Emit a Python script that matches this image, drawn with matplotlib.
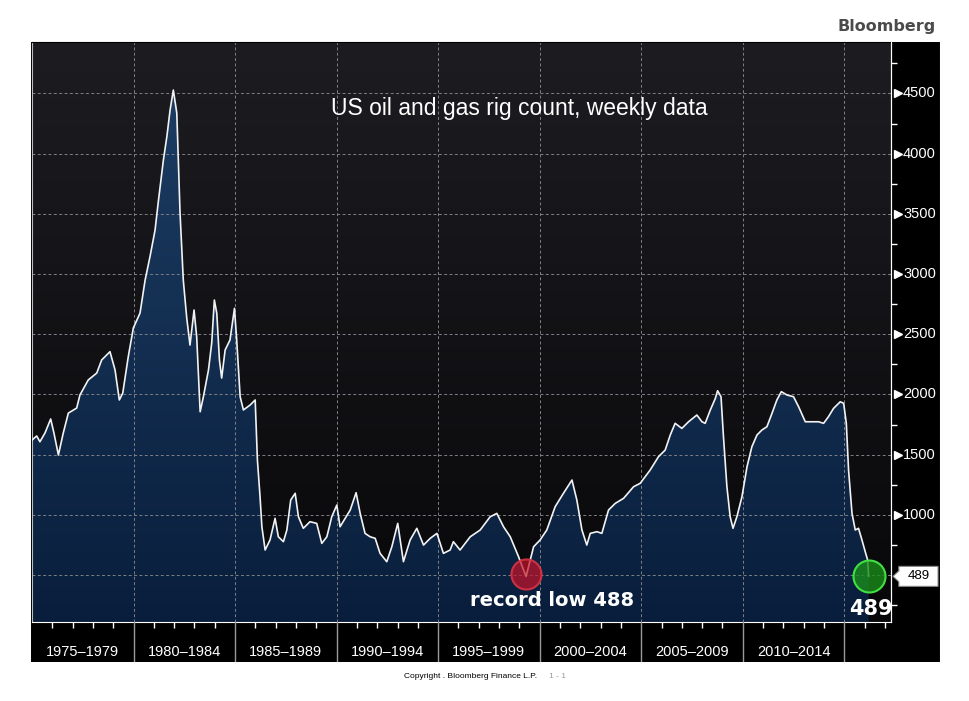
import numpy as np
import matplotlib
matplotlib.use("Agg")
import matplotlib.pyplot as plt
from matplotlib.colors import LinearSegmentedColormap

# weekly US oil and gas rig count
years = [
    1975.00, 1975.23, 1975.39, 1975.64, 1975.92, 1976.08, 1976.30, 1976.54, 1976.79, 1977.20,
    1977.36, 1977.77, 1978.19, 1978.43, 1978.84, 1979.09, 1979.30, 1979.47, 1979.74, 1979.99,
    1980.32, 1980.57, 1980.81, 1981.06, 1981.22, 1981.47, 1981.64, 1981.80, 1981.96, 1982.13,
    1982.29, 1982.45, 1982.62, 1982.78, 1982.98, 1983.11, 1983.28, 1983.44, 1983.69, 1983.85,
    1983.98, 1984.10, 1984.23, 1984.34, 1984.51, 1984.75, 1984.97, 1985.08, 1985.25, 1985.41,
    1985.74, 1985.99, 1986.10, 1986.23, 1986.32, 1986.48, 1986.72, 1986.97, 1987.13, 1987.38,
    1987.55, 1987.74, 1987.96, 1988.12, 1988.36, 1988.69, 1989.02, 1989.27, 1989.52, 1989.76,
    1990.01, 1990.17, 1990.42, 1990.67, 1990.96, 1991.16, 1991.40, 1991.65, 1991.90, 1992.14,
    1992.47, 1992.72, 1993.01, 1993.13, 1993.29, 1993.62, 1993.95, 1994.28, 1994.61, 1994.94,
    1995.26, 1995.59, 1995.75, 1996.08, 1996.58, 1997.07, 1997.56, 1997.89, 1998.22, 1998.55,
    1998.96, 1999.33, 1999.70, 2000.02, 2000.35, 2000.76, 2001.17, 2001.59, 2001.83, 2002.08,
    2002.32, 2002.49, 2002.82, 2003.06, 2003.39, 2003.72, 2004.13, 2004.62, 2004.95, 2005.44,
    2005.85, 2006.18, 2006.43, 2006.67, 2007.00, 2007.33, 2007.74, 2007.99, 2008.15, 2008.40,
    2008.65, 2008.76, 2008.93, 2009.05, 2009.22, 2009.38, 2009.52, 2009.71, 2009.96, 2010.21,
    2010.45, 2010.70, 2010.94, 2011.19, 2011.44, 2011.68, 2011.90, 2012.18, 2012.50, 2012.75,
    2013.08, 2013.41, 2013.73, 2013.98, 2014.22, 2014.47, 2014.80, 2014.97, 2015.10, 2015.21,
    2015.38, 2015.54, 2015.70, 2015.87, 2016.03, 2016.15, 2016.20,
]
rigs = [
    1621, 1655, 1607, 1680, 1796, 1680, 1497, 1680, 1845, 1887,
    1995, 2120, 2178, 2286, 2355, 2203, 1954, 2012, 2313, 2552,
    2676, 2950, 3144, 3365, 3601, 3947, 4140, 4362, 4528, 4337,
    3507, 2950, 2635, 2410, 2701, 2479, 1856, 1981, 2203, 2427,
    2784, 2674, 2286, 2136, 2369, 2452, 2715, 2452, 1981, 1871,
    1912, 1954, 1455, 1150, 901, 708, 791, 971, 818, 777,
    874, 1123, 1179, 984, 888, 943, 929, 763, 818, 984,
    1081, 901, 971, 1040, 1184, 1012, 846, 818, 805, 680,
    611, 735, 929, 791, 611, 791, 888, 749, 805, 846,
    680, 708, 777, 708, 818, 874, 984, 1012, 901, 818,
    652, 488, 735, 791, 874, 1067, 1179, 1289, 1123, 874,
    749, 846, 860, 846, 1040, 1095, 1137, 1233, 1262, 1372,
    1483, 1538, 1663, 1760, 1718, 1773, 1829, 1773, 1760, 1870,
    1967, 2031, 1981, 1649, 1233, 984, 888, 984, 1150, 1400,
    1566, 1663, 1704, 1732, 1843, 1954, 2023, 1995, 1981, 1898,
    1773, 1773, 1773, 1760, 1815, 1884, 1939, 1926, 1760, 1372,
    1012, 874, 888, 791, 694, 625, 489,
]

period_labels = ["1975\u20131979", "1980\u20131984", "1985\u20131989", "1990\u20131994",
                 "1995\u20131999", "2000\u20132004", "2005\u20132009", "2010\u20132014"]
period_starts = [1975, 1980, 1985, 1990, 1995, 2000, 2005, 2010]
y_labels = [1000, 1500, 2000, 2500, 3000, 3500, 4000, 4500]
y_grid = [500, 1000, 1500, 2000, 2500, 3000, 3500, 4000, 4500]
low_year, low_value = 1999.33, 488
last_year, last_value = 2016.20, 489

W, H = 969, 701
XMIN, XMAX = 1975.0, 2017.3
YMIN, YMAX = 110, 4927


def px(x0, y0, x1, y1):
    return [x0 / W, 1 - y1 / H, (x1 - x0) / W, (y1 - y0) / H]


fig = plt.figure(figsize=(W / 100, H / 100), dpi=100)
fig.patch.set_facecolor("white")

# black frame behind everything
ax_bg = fig.add_axes(px(31, 42, 941, 662))
ax_bg.set_facecolor("black")
ax_bg.set_xticks([])
ax_bg.set_yticks([])
for side in ["top", "bottom", "left"]:
    ax_bg.spines[side].set_visible(False)
ax_bg.spines["right"].set_color("white")
ax_bg.spines["right"].set_linewidth(1.5)

# main plot
ax = fig.add_axes(px(32, 42, 891, 622))
ax.set_facecolor("none")
bg_cmap = LinearSegmentedColormap.from_list("bg", ["#08080a", "#1d1c21"])
ax.imshow(np.linspace(0, 1, 256).reshape(-1, 1), cmap=bg_cmap, origin="lower",
          extent=[0, 1, 0, 1], transform=ax.transAxes, aspect="auto", zorder=0)

poly = ax.fill_between(years, rigs, YMIN, facecolor="none", edgecolor="none")
fill_cmap = LinearSegmentedColormap.from_list("fill", ["#091e3c", "#1c3d63"])
im = ax.imshow(np.linspace(0, 1, 256).reshape(-1, 1), cmap=fill_cmap, origin="lower",
               extent=[XMIN, XMAX, YMIN, 4600], aspect="auto", zorder=1)
im.set_clip_path(poly.get_paths()[0], transform=ax.transData)

for v in y_grid:
    ax.axhline(v, color="#7f7f86", lw=0.7, dashes=(3, 2.5), zorder=2)
for yr in period_starts[1:] + [2015]:
    ax.axvline(yr, color="#7f7f86", lw=0.7, dashes=(3, 2.5), zorder=2)

ax.plot(years, rigs, color="#f2f2f2", lw=1.2, zorder=3)

ax.scatter([low_year], [low_value + 20], s=470, facecolor=(0.78, 0.08, 0.16, 0.7),
           edgecolor=(0.85, 0.2, 0.28, 0.9), lw=1.5, zorder=4)
ax.scatter([last_year], [last_value], s=530, facecolor=(0.1, 0.55, 0.1, 0.8),
           edgecolor="#3fe03f", lw=1.5, zorder=4)

ax.text(2000.6, 292, "record low 488", color="white", fontsize=14, fontweight="bold",
        family="DejaVu Sans", ha="center", va="center", zorder=5)
ax.text(2016.33, 218, "489", color="white", fontsize=15, fontweight="bold",
        family="DejaVu Sans", ha="center", va="center", zorder=5)
ax.text(0.567, 0.886, "US oil and gas rig count, weekly data", transform=ax.transAxes,
        color="white", fontsize=16.5, family="Liberation Sans", ha="center", va="center")

ax.set_xlim(XMIN, XMAX)
ax.set_ylim(YMIN, YMAX)
ax.set_yticks([])
ax.set_xticks(period_starts[1:] + [2015])
ax.set_xticklabels([])
ax.set_xticks([y for y in range(1976, 2018) if y % 5], minor=True)
ax.tick_params(axis="x", which="major", length=0)
ax.tick_params(axis="x", which="minor", direction="out", length=4.5, width=1, color="white")
ax.spines["top"].set_color("black")
ax.spines["left"].set_color("#bbbbbb")
ax.spines["right"].set_color("white")
ax.spines["bottom"].set_color("white")

# x band with period labels
axb = fig.add_axes(px(32, 622, 891, 662))
axb.set_facecolor("none")
axb.set_xlim(XMIN, XMAX)
axb.set_ylim(0, 1)
axb.axis("off")
for yr in period_starts[1:] + [2015]:
    axb.axvline(yr, color="#9a9a9a", lw=1)
for start, lab in zip(period_starts, period_labels):
    axb.text(start + 2.5, 0.25, lab, color="white", fontsize=10.5, family="Liberation Sans",
             ha="center", va="center")

# right value panel
ax_r = fig.add_axes(px(891, 42, 940, 622))
ax_r.set_facecolor("none")
ax_r.set_xlim(0, 1)
ax_r.set_ylim(YMIN, YMAX)
ax_r.set_xticks([])
ax_r.set_yticks([])
ax_r.set_yticks(np.arange(250, 4800, 500), minor=True)
ax_r.tick_params(axis="y", which="minor", direction="in", length=4.3, width=1, color="white")
for side in ["top", "bottom", "right"]:
    ax_r.spines[side].set_visible(False)
ax_r.spines["left"].set_color("white")
ax_r.plot([0.14] * len(y_labels), y_labels, ls="none", marker=">", ms=5.5, color="white",
          clip_on=False)
for v in y_labels:
    ax_r.text(0.245, v, str(v), color="white", fontsize=10.5, family="Liberation Sans",
              ha="left", va="center")

# price tag for the last value
half = 83
ax_r.fill([0.16, 0.96, 0.96, 0.16, 0.16, 0.04, 0.16],
          [last_value + half, last_value + half, last_value - half, last_value - half,
           last_value - 45, last_value, last_value + 45],
          facecolor="white", edgecolor="#888888", lw=0.8)
ax_r.text(0.56, last_value, "489", color="black", fontsize=9.5, family="Liberation Sans",
          ha="center", va="center")

fig.text(936 / W, 1 - 27 / H, "Bloomberg", ha="right", va="center", fontsize=11.5,
         fontweight="bold", color="#4b4b4b", family="DejaVu Sans")
fig.text(404 / W, 1 - 677 / H, "Copyright . Bloomberg Finance L.P.", ha="left", va="center",
         fontsize=6, color="black", family="Liberation Sans")
fig.text(549 / W, 1 - 677 / H, "1 - 1", ha="left", va="center", fontsize=6,
         color="#999999", family="Liberation Sans")

fig.savefig("out.png", dpi=100)
